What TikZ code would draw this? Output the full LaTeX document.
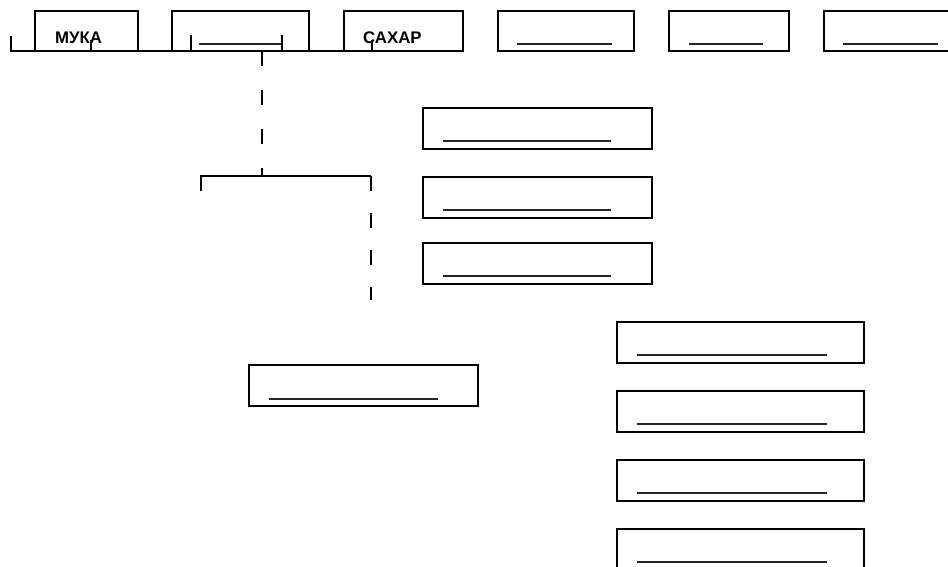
\documentclass[tikz,border=0pt]{standalone}
\usepackage{fontspec}
\setmainfont{Liberation Sans}
\begin{document}
\begin{tikzpicture}[x=1pt,y=-1pt,
  box/.style={draw,line width=1.8pt,inner sep=0pt,outer sep=0pt,anchor=north west},
  topbox/.style={box,minimum height=40pt},
  midbox/.style={box,minimum width=229pt,minimum height=41pt},
  rbox/.style={box,minimum width=247pt,minimum height=41pt},
  blank/.style={line width=1.3pt,black!85},
  wire/.style={line width=1.8pt},
  label/.style={font=\bfseries\fontsize{16.8}{16.8}\selectfont,anchor=base west,inner sep=0pt}]
\useasboundingbox (0,0) rectangle (948,566);
\clip (0,0) rectangle (948,566);

% top row of boxes
\node[topbox,minimum width=103pt] (b1) at (35,11) {};
\node[topbox,minimum width=137pt] (b2) at (172,11) {};
\node[topbox,minimum width=119pt] (b3) at (344,11) {};
\node[topbox,minimum width=136pt] (b4) at (498,11) {};
\node[topbox,minimum width=120pt] (b5) at (669,11) {};
\node[topbox,minimum width=140pt] (b6) at (824,11) {};
\node[label] (t1) at (55,43) {МУКА};
\node[label] (t3) at (363,43) {САХАР};

% blanks inside the top row
\draw[blank] (199,44) -- (283,44);
\draw[blank] (517,44) -- (612,44);
\draw[blank] (689,44) -- (763,44);
\draw[blank] (843,44) -- (938,44);

% bus along the top row with its ticks
\coordinate (busL) at (11,51);
\coordinate (busR) at (463,51);
\draw[wire] (11,36) -- (busL) -- (busR) -- (463,35);
\draw[wire] (91,40) -- (91,51);
\draw[wire] (191,35) -- (191,51);
\draw[wire] (282,35) -- (282,51);
\draw[wire] (372,40) -- (372,51);

% branch down to the bracket
\coordinate (drop) at (262,51);
\coordinate (brk) at (262,176);
\draw[wire,dash pattern=on 15pt off 24pt] (drop) -- (brk);
\coordinate (brkL) at (201,176);
\coordinate (brkR) at (371,176);
\draw[wire] (201,191) -- (brkL) -- (brkR);
\draw[wire,dash pattern=on 15pt off 22pt] (brkR) -- (371,300);

% middle column
\node[midbox] (m1) at (423,108) {};
\node[midbox] (m2) at (423,177) {};
\node[midbox] (m3) at (423,243) {};
\draw[blank] (443,141) -- (611,141);
\draw[blank] (443,210) -- (611,210);
\draw[blank] (443,276) -- (611,276);

% lower left box
\node[midbox] (l1) at (249,365) {};
\draw[blank] (269,399) -- (438,399);

% right column
\node[rbox] (r1) at (617,322) {};
\node[rbox] (r2) at (617,391) {};
\node[rbox] (r3) at (617,460) {};
\node[rbox] (r4) at (617,529) {};
\draw[blank] (637,355) -- (827,355);
\draw[blank] (637,424) -- (827,424);
\draw[blank] (637,493) -- (827,493);
\draw[blank] (637,562) -- (827,562);
\end{tikzpicture}
\end{document}
